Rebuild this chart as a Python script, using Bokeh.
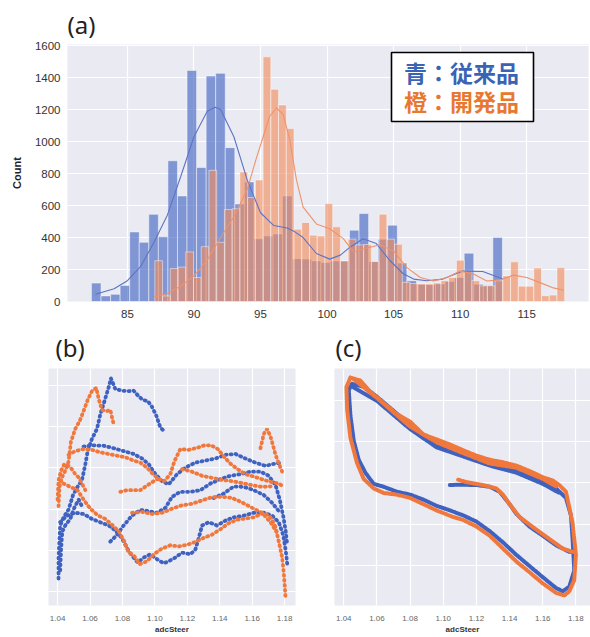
import numpy as np
from bokeh.plotting import figure
from bokeh.layouts import column, row
from bokeh.models import FixedTicker, Label, BoxAnnotation, NumeralTickFormatter
from bokeh.embed import file_html
from bokeh.resources import INLINE

BG = "#EAEAF2"
BLUE = "#3F62C0"
ORANGE = "#F0783C"

# ---------------- (a) histogram data ----------------
blue_bin_start = 82.3
blue_bin_width = 0.718
blue_counts = [115, 35, 45, 100, 435, 370, 545, 405, 880, 660,
               1445, 838, 1410, 1427, 962, 610, 748, 392, 410, 422,
               660, 268, 265, 254, 244, 254, 254, 446, 550, 250,
               390, 477, 240, 130, 108, 105, 110, 125, 150, 302,
               108, 100, 400]
orange_bin_start = 87.06
orange_bin_width = 0.581
orange_counts = [255, 35, 206, 215, 310, 150, 343, 820, 370, 575,
                 580, 810, 650, 760, 1530, 1327, 1229, 1081, 452, 494,
                 415, 410, 613, 467, 254, 390, 354, 356, 250, 546,
                 390, 358, 120, 112, 110, 110, 115, 130, 150, 258,
                 190, 130, 98, 98, 130, 160, 248, 96, 96, 210,
                 36, 40, 212]
blue_kde_x = [82.6, 84, 85, 86, 87, 88, 89, 90, 91, 91.6, 92, 93, 94, 95, 96, 97, 97.5, 98.2, 99.2, 100.2,
              101, 101.7, 102.7, 103.7, 104.7, 105.7, 106.5, 107.5, 108.7, 110.2, 111.7, 113.2]
blue_kde_y = [45, 80, 130, 220, 370, 540, 780, 1030, 1190, 1215, 1200, 1030, 760, 555, 475, 460, 440, 400, 300, 265,
              290, 338, 392, 362, 258, 175, 140, 130, 140, 190, 188, 140]
orange_kde_x = [87.0, 88, 89, 90, 91, 92, 93, 94, 94.7, 95.2, 95.7, 96.2, 96.7, 97.2, 97.7, 98.2, 99.2, 100.2,
                101.2, 102, 103, 104, 105, 106, 107, 108, 109, 110, 111, 112, 113, 114, 115, 116, 117, 117.8]
orange_kde_y = [30, 50, 95, 160, 260, 400, 530, 700, 900, 1030, 1160, 1210, 1170, 1010, 760, 590, 485, 455,
                395, 310, 335, 355, 315, 212, 150, 128, 150, 190, 172, 128, 135, 165, 150, 118, 85, 70]
a_x_ticks = [85, 90, 95, 100, 105, 110, 115]
a_y_ticks = [0, 200, 400, 600, 800, 1000, 1200, 1400, 1600]
legend_lines = ["青：従来品", "橙：開発品"]

# ---------------- (b) scatter trails (adcSteer, y in grid units) ----------------
b_x_ticks = [1.04, 1.06, 1.08, 1.10, 1.12, 1.14, 1.16, 1.18]
b_y_grid = [1, 2, 3, 4, 5, 6]
b_blue_xs = [
    [1.0406, 1.0406, 1.0412, 1.0416, 1.0437, 1.0468, 1.0495, 1.0523, 1.0550, 1.0571, 1.0585, 1.0612, 1.0643, 1.0663,
     1.0694, 1.0715, 1.0729, 1.0756, 1.0797, 1.0838, 1.0869, 1.0894, 1.0927, 1.0956, 1.0982, 1.1009, 1.1034, 1.1054],
    [1.0416, 1.0458, 1.0509, 1.0560, 1.0612, 1.0663, 1.0715, 1.0756, 1.0797, 1.0838, 1.0869, 1.0894, 1.0931, 1.0972,
     1.1013, 1.1054, 1.1085, 1.1126, 1.1167, 1.1219, 1.1250, 1.1270, 1.1291, 1.1332, 1.1383, 1.1435, 1.1486, 1.1548,
     1.1610, 1.1672, 1.1723, 1.1764, 1.1791, 1.1807, 1.1816],
    [1.0560, 1.0622, 1.0684, 1.0746, 1.0807, 1.0869, 1.0921, 1.0962, 1.1003, 1.1044, 1.1085, 1.1137, 1.1188, 1.1250,
     1.1312, 1.1373, 1.1435, 1.1497, 1.1558, 1.1620, 1.1682, 1.1733, 1.1774],
    [1.0725, 1.0766, 1.0807, 1.0859, 1.0910, 1.0962, 1.1013, 1.1065, 1.1106, 1.1157, 1.1219, 1.1281, 1.1342, 1.1404,
     1.1466, 1.1528, 1.1589, 1.1651, 1.1702, 1.1744, 1.1770, 1.1791, 1.1807, 1.1816],
    [1.1363, 1.1425, 1.1486, 1.1548, 1.1610, 1.1672, 1.1723, 1.1764],
    [1.0416, 1.0421, 1.0429, 1.0447, 1.0478, 1.0503, 1.0530, 1.0550],
]
b_blue_ys = [
    [1.31, 1.82, 2.29, 2.60, 2.80, 2.99, 3.34, 3.54, 3.70, 4.09, 4.40, 4.71, 4.95, 5.30,
     5.69, 5.96, 6.18, 5.92, 5.88, 5.87, 5.88, 5.77, 5.65, 5.63, 5.49, 5.27, 4.98, 4.91],
    [2.68, 2.84, 2.91, 2.88, 2.76, 2.68, 2.60, 2.48, 2.29, 1.98, 1.82, 1.70, 1.82, 1.90,
     1.78, 1.68, 1.73, 1.82, 1.94, 1.90, 2.02, 2.29, 2.60, 2.68, 2.60, 2.72, 2.80, 2.84,
     2.91, 2.91, 2.84, 2.68, 2.37, 1.98, 1.66],
    [4.52, 4.55, 4.54, 4.48, 4.41, 4.34, 4.23, 4.09, 3.85, 3.68, 3.60, 3.85, 4.01, 4.13,
     4.18, 4.23, 4.32, 4.34, 4.23, 4.13, 4.05, 4.10, 4.13],
    [2.21, 2.37, 2.60, 2.84, 2.98, 2.95, 2.91, 3.03, 3.30, 3.42, 3.42, 3.46, 3.62, 3.73,
     3.81, 3.85, 3.91, 3.91, 3.81, 3.58, 3.23, 2.84, 2.45, 2.13],
    [3.27, 3.38, 3.55, 3.54, 3.46, 3.34, 3.15, 2.95],
    [1.51, 1.98, 2.45, 2.60, 2.76, 3.03, 3.23, 3.07],
]
b_orange_xs = [
    [1.0406, 1.0412, 1.0427, 1.0447, 1.0468, 1.0482, 1.0509, 1.0536, 1.0560, 1.0585, 1.0612, 1.0639, 1.0655, 1.0674,
     1.0700, 1.0725, 1.0746],
    [1.0468, 1.0509, 1.0560, 1.0612, 1.0663, 1.0715, 1.0766, 1.0818, 1.0869, 1.0910, 1.0951, 1.0988, 1.1023, 1.1058,
     1.1095, 1.1120, 1.1157, 1.1209, 1.1260, 1.1305, 1.1347, 1.1388, 1.1429, 1.1470, 1.1511, 1.1558, 1.1610, 1.1672,
     1.1717, 1.1764, 1.1795],
    [1.0437, 1.0478, 1.0523, 1.0560, 1.0602, 1.0647, 1.0694, 1.0735, 1.0777, 1.0812, 1.0838, 1.0869, 1.0906, 1.0951,
     1.0993, 1.1044, 1.1095, 1.1147, 1.1198, 1.1250, 1.1301, 1.1353, 1.1404, 1.1456, 1.1507, 1.1558, 1.1610, 1.1672,
     1.1713, 1.1744, 1.1764, 1.1785, 1.1795, 1.1801, 1.1805],
    [1.0859, 1.0921, 1.0982, 1.1044, 1.1106, 1.1167, 1.1229, 1.1291, 1.1353, 1.1414, 1.1476, 1.1538, 1.1600, 1.1661,
     1.1713, 1.1749],
    [1.0787, 1.0828, 1.0869, 1.0910, 1.0951, 1.0993, 1.1034],
    [1.1167, 1.1229, 1.1291, 1.1353, 1.1414, 1.1476, 1.1538, 1.1600, 1.1661, 1.1713],
    [1.1651, 1.1672, 1.1692, 1.1709, 1.1717, 1.1744, 1.1774, 1.1791],
    [1.0400, 1.0406, 1.0421, 1.0441, 1.0468, 1.0488, 1.0509, 1.0530, 1.0550, 1.0571],
]
b_orange_ys = [
    [3.07, 3.54, 3.77, 3.93, 4.16, 4.63, 4.95, 5.14, 5.38, 5.65, 5.87, 5.95, 5.65, 5.41, 5.38, 5.41, 5.06],
    [4.32, 4.41, 4.46, 4.44, 4.38, 4.34, 4.30, 4.26, 4.18, 4.13, 4.01, 3.85, 3.73, 3.68,
     3.85, 4.16, 4.46, 4.44, 4.49, 4.55, 4.55, 4.46, 4.26, 4.09, 3.97, 3.85, 3.79, 3.71,
     3.66, 3.62, 3.54],
    [3.62, 3.54, 3.46, 3.23, 3.01, 2.85, 2.76, 2.62, 2.46, 2.21, 1.94, 1.88, 1.66, 1.73,
     1.90, 2.04, 2.12, 2.09, 2.13, 2.20, 2.30, 2.38, 2.51, 2.66, 2.74, 2.77, 2.80, 2.91,
     2.80, 2.56, 2.21, 1.82, 1.43, 1.12, 0.88],
    [2.91, 2.93, 2.88, 2.91, 3.01, 3.09, 3.13, 3.21, 3.29, 3.30, 3.27, 3.16, 3.03, 2.91, 2.68, 2.45],
    [3.42, 3.46, 3.46, 3.46, 3.57, 3.68, 3.77],
    [3.97, 3.91, 3.81, 3.76, 3.71, 3.68, 3.63, 3.58, 3.54, 3.55],
    [4.48, 4.83, 4.95, 4.80, 4.71, 4.32, 4.01, 3.85],
    [3.23, 3.70, 3.93, 4.09, 4.05, 3.97, 3.85, 3.77, 3.62, 3.46],
]

# ---------------- (c) scatter trails ----------------
c_y_grid = [1, 2, 3, 4, 5]
c_blue_xs = [
    [1.045, 1.052, 1.060, 1.070, 1.080, 1.088, 1.096, 1.104, 1.112, 1.120, 1.128, 1.136, 1.144, 1.152, 1.160,
     1.168, 1.174, 1.177, 1.178, 1.179, 1.176, 1.172, 1.168, 1.160, 1.152, 1.144, 1.136, 1.128, 1.120, 1.112,
     1.104, 1.096, 1.088, 1.080, 1.072, 1.064, 1.058, 1.053, 1.049, 1.046, 1.044, 1.043, 1.045],
    [1.046, 1.060, 1.080, 1.096, 1.112, 1.128, 1.144, 1.160, 1.170],
    [1.104, 1.110, 1.120, 1.128, 1.134, 1.140, 1.144, 1.152, 1.160, 1.168, 1.176, 1.179],
]
c_blue_ys = [
    [5.39, 5.32, 5.08, 4.74, 4.40, 4.09, 3.94, 3.82, 3.71, 3.60, 3.48, 3.40, 3.33, 3.18, 3.06,
     2.87, 2.64, 2.22, 1.65, 0.89, 0.50, 0.39, 0.47, 0.73, 1.00, 1.27, 1.57, 1.84, 2.07, 2.22,
     2.34, 2.45, 2.60, 2.72, 2.79, 2.91, 2.98, 3.25, 3.56, 4.02, 4.63, 5.24, 5.39],
    [5.30, 4.98, 4.30, 3.86, 3.64, 3.42, 3.25, 2.98, 2.76],
    [2.95, 2.96, 2.95, 2.91, 2.79, 2.49, 2.26, 1.95, 1.73, 1.50, 1.34, 1.34],
]
c_orange_xs = [
    [1.044, 1.050, 1.056, 1.064, 1.072, 1.080, 1.088, 1.096, 1.104, 1.112, 1.120, 1.128, 1.136, 1.144, 1.152,
     1.160, 1.166, 1.170, 1.174, 1.178, 1.180, 1.179, 1.176, 1.173, 1.168, 1.160, 1.152, 1.144, 1.136, 1.128,
     1.120, 1.112, 1.106, 1.096, 1.088, 1.080, 1.072, 1.064, 1.058, 1.052, 1.048, 1.044, 1.042, 1.0416, 1.044],
    [1.046, 1.060, 1.080, 1.096, 1.112, 1.128, 1.144, 1.160, 1.168],
    [1.109, 1.114, 1.124, 1.132, 1.136, 1.140, 1.146, 1.156, 1.164, 1.172, 1.178],
]
c_orange_ys = [
    [5.54, 5.47, 5.20, 4.93, 4.66, 4.48, 4.17, 4.05, 3.93, 3.79, 3.66, 3.56, 3.50, 3.42, 3.29,
     3.14, 3.06, 2.95, 2.79, 2.03, 1.27, 0.66, 0.39, 0.29, 0.35, 0.58, 0.85, 1.11, 1.42, 1.73,
     1.95, 2.11, 2.18, 2.34, 2.49, 2.64, 2.72, 2.76, 2.87, 3.10, 3.48, 4.09, 4.78, 5.31, 5.54],
    [5.50, 5.05, 4.36, 3.98, 3.72, 3.47, 3.37, 3.10, 2.92],
    [3.08, 3.02, 2.95, 2.87, 2.72, 2.49, 2.18, 1.88, 1.65, 1.42, 1.34],
]


def base_style(p):
    p.background_fill_color = BG
    p.border_fill_color = "white"
    p.outline_line_color = None
    p.grid.grid_line_color = "white"
    p.grid.grid_line_width = 1.2
    p.axis.axis_line_color = None
    p.axis.major_tick_line_color = None
    p.axis.minor_tick_line_color = None
    p.title.align = "left"
    p.title.text_font = "Noto Sans"
    p.title.text_font_style = "normal"
    p.title.text_font_size = "24px"
    p.title.text_color = "#222222"


# ---------------- panel (a) ----------------
pa = figure(width=590, height=323, x_range=(80.5, 119.64), y_range=(0, 1607),
            output_backend="svg", toolbar_location=None, title="(a)",
            min_border_left=67, min_border_right=2, min_border_top=44, min_border_bottom=22)
base_style(pa)
pa.title.standoff = 7
pa.xaxis.ticker = FixedTicker(ticks=a_x_ticks)
pa.yaxis.ticker = FixedTicker(ticks=a_y_ticks)
pa.xgrid.ticker = FixedTicker(ticks=a_x_ticks)
pa.ygrid.ticker = FixedTicker(ticks=a_y_ticks)
pa.axis.major_label_text_font = "Liberation Sans"
pa.axis.major_label_text_font_size = "11.5px"
pa.axis.major_label_text_color = "#333333"
pa.xaxis.major_label_standoff = 2
pa.yaxis.major_label_standoff = 1
pa.yaxis.axis_label = "Count"
pa.yaxis.axis_label_text_font = "Liberation Sans"
pa.yaxis.axis_label_text_font_size = "11px"
pa.yaxis.axis_label_text_font_style = "bold"
pa.yaxis.axis_label_text_color = "#222222"
pa.yaxis.axis_label_standoff = 9

be = blue_bin_start + blue_bin_width * np.arange(len(blue_counts) + 1)
oe = orange_bin_start + orange_bin_width * np.arange(len(orange_counts) + 1)
pa.quad(left=be[:-1], right=be[1:], bottom=0, top=blue_counts,
        fill_color="#395EC0", fill_alpha=0.6, line_color="white", line_width=0.6, line_alpha=0.8)
pa.quad(left=oe[:-1], right=oe[1:], bottom=0, top=orange_counts,
        fill_color="#F28A5A", fill_alpha=0.62, line_color="white", line_width=0.6, line_alpha=0.8)
pa.line(blue_kde_x, blue_kde_y, line_color="#5C74C6", line_width=1.1)
pa.line(orange_kde_x, orange_kde_y, line_color="#F0926A", line_width=1.1)

pa.add_layout(BoxAnnotation(left=324, right=466, bottom=180, top=249,
                            left_units="screen", right_units="screen",
                            top_units="screen", bottom_units="screen",
                            fill_color="white", fill_alpha=1.0,
                            line_color="black", line_width=1.6, line_alpha=1.0))
for txt, yy, col in zip(legend_lines, [229.5, 201], ["#3A62B5", "#E8782F"]):
    pa.add_layout(Label(x=394, y=yy, x_units="screen", y_units="screen", text=txt,
                        text_align="center", text_baseline="middle",
                        text_font="Noto Sans CJK JP", text_font_style="bold",
                        text_font_size="23px", text_color=col))


def scatter_fig(width, bl, br, xr, yr, ygrid, label, title_offset):
    p = figure(width=width, height=313, x_range=xr, y_range=yr,
               output_backend="svg", toolbar_location=None, title=label,
               min_border_left=bl, min_border_right=br, min_border_top=44, min_border_bottom=23)
    base_style(p)
    p.title.standoff = 10
    p.title.offset = title_offset
    p.xaxis.ticker = FixedTicker(ticks=b_x_ticks)
    p.xgrid.ticker = FixedTicker(ticks=b_x_ticks)
    p.yaxis.ticker = FixedTicker(ticks=ygrid)
    p.ygrid.ticker = FixedTicker(ticks=ygrid)
    p.yaxis.visible = False
    p.xaxis.formatter = NumeralTickFormatter(format="0.00")
    p.xaxis.major_label_text_font = "Liberation Sans"
    p.xaxis.major_label_text_font_size = "8px"
    p.xaxis.major_label_text_color = "#666666"
    p.xaxis.major_label_standoff = 4
    p.xaxis.axis_label = "adcSteer"
    p.xaxis.axis_label_text_font = "Liberation Sans"
    p.xaxis.axis_label_text_font_size = "8px"
    p.xaxis.axis_label_text_font_style = "bold"
    p.xaxis.axis_label_text_color = "#333333"
    p.xaxis.axis_label_standoff = 1
    return p


pb = scatter_fig(314, 48, 19, (1.0344, 1.1867), (0.654, 6.42), b_y_grid, "(b)", 7)
pb.multi_line(xs=b_blue_xs, ys=b_blue_ys, line_color=BLUE, line_width=3.8,
              line_dash="1 4", line_cap="round")
pb.multi_line(xs=b_orange_xs, ys=b_orange_ys, line_color=ORANGE, line_width=3.8,
              line_dash="1 4", line_cap="round")

pc = scatter_fig(276, 20, 0, (1.0344, 1.1888), (0.047, 5.76), c_y_grid, "(c)", 1)
pc.multi_line(xs=c_blue_xs, ys=c_blue_ys, line_color=BLUE, line_width=4,
              line_dash="2 1", line_cap="round")
pc.multi_line(xs=c_orange_xs, ys=c_orange_ys, line_color=ORANGE, line_width=4,
              line_dash="2 1", line_cap="round")

layout = column(pa, row(pb, pc))
open("out.html", "w").write(file_html(layout, INLINE))
